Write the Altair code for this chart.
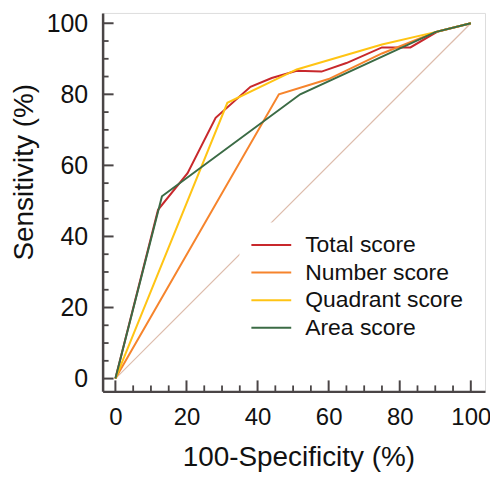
import altair as alt
import pandas as pd

series = ["Total score", "Number score", "Quadrant score", "Area score"]
colors = ["#C8282C", "#F6842C", "#FFC414", "#3B6B45"]

total_x = [0, 12, 20.3, 28.2, 38, 44, 51, 58, 65, 75, 83, 90.5, 100]
total_y = [0, 47.5, 57.8, 73.4, 82.1, 84.6, 86.6, 86.4, 88.8, 93.2, 93.2, 97.6, 100]
number_x = [0, 46, 60, 75, 90, 100]
number_y = [0, 80, 84.3, 91.5, 97.5, 100]
quadrant_x = [0, 31.5, 51, 75, 90, 100]
quadrant_y = [0, 77.6, 87, 94, 97.5, 100]
area_x = [0, 13.1, 52, 90, 100]
area_y = [0, 51.3, 80, 97.5, 100]

diag_x = [0, 100]
diag_y = [0, 100]

tick_vals = list(range(0, 101, 5))
major_vals = [0, 20, 40, 60, 80, 100]
minor_vals = [v for v in tick_vals if v not in major_vals]

rows = []
for name, xs, ys in [("Total score", total_x, total_y), ("Number score", number_x, number_y),
                     ("Quadrant score", quadrant_x, quadrant_y), ("Area score", area_x, area_y)]:
    for i, (a, b) in enumerate(zip(xs, ys)):
        rows.append({"series": name, "x": a, "y": b, "i": i})
df = pd.DataFrame(rows)

W, H = 384, 380
FONT = "Liberation Sans"
AX = "#4A4546"

xscale = alt.Scale(domain=[-3.6, 104], nice=False, zero=False)
yscale = alt.Scale(domain=[-3.6, 102.9], nice=False, zero=False)

xaxis = alt.Axis(values=major_vals, title="100-Specificity (%)", ticks=False, grid=False,
                 domainColor=AX, domainWidth=2.5, labelFontSize=24, labelFont=FONT,
                 labelColor="#111", labelPadding=14, titleFont=FONT, titleFontSize=28,
                 titleFontWeight="normal", titleColor="#111", titleX=196.6, titleY=74,
                 titleBaseline="alphabetic", titleAlign="center")
yaxis = alt.Axis(values=major_vals, title="Sensitivity (%)", ticks=False, grid=False,
                 domainColor=AX, domainWidth=2.5, labelFontSize=25, labelFont=FONT,
                 labelColor="#111", labelPadding=15, titleFont=FONT, titleFontSize=28,
                 titleFontWeight="normal", titleColor="#111", titleX=-70.5, titleY=159.5,
                 titleBaseline="alphabetic", titleAlign="center", titleAngle=-90)

diag = alt.Chart(pd.DataFrame({"x": diag_x, "y": diag_y})).mark_line(
    color="#DDBCAC", strokeWidth=1.2).encode(
    x=alt.X("x:Q", scale=xscale, axis=xaxis),
    y=alt.Y("y:Q", scale=yscale, axis=yaxis))

lines = alt.Chart(df).mark_line(strokeWidth=2).encode(
    x=alt.X("x:Q", scale=xscale),
    y=alt.Y("y:Q", scale=yscale),
    order="i:Q",
    color=alt.Color("series:N", scale=alt.Scale(domain=series, range=colors), sort=series,
                    legend=alt.Legend(title=None, orient="none", legendX=137.4, legendY=210.5,
                                      symbolType="stroke", symbolSize=1600, symbolStrokeWidth=2,
                                      labelFontSize=23, labelFont=FONT, labelColor="#111",
                                      labelOffset=13, rowPadding=3.7, padding=11,
                                      clipHeight=23, fillColor="white")))

xt_major = alt.Chart(pd.DataFrame({"v": major_vals})).mark_rule(color=AX, strokeWidth=2).encode(
    x=alt.X("v:Q", scale=xscale), y=alt.value(H), y2=alt.value(H - 11))
xt_minor = alt.Chart(pd.DataFrame({"v": minor_vals})).mark_rule(color=AX, strokeWidth=1.8).encode(
    x=alt.X("v:Q", scale=xscale), y=alt.value(H), y2=alt.value(H - 6))
yt_major = alt.Chart(pd.DataFrame({"v": major_vals})).mark_rule(color=AX, strokeWidth=2).encode(
    y=alt.Y("v:Q", scale=yscale), x=alt.value(0), x2=alt.value(11))
yt_minor = alt.Chart(pd.DataFrame({"v": minor_vals})).mark_rule(color=AX, strokeWidth=1.8).encode(
    y=alt.Y("v:Q", scale=yscale), x=alt.value(0), x2=alt.value(6))

chart = alt.layer(diag, lines, xt_major, xt_minor, yt_major, yt_minor).properties(
    width=W, height=H,
    autosize=alt.AutoSizeParams(type="none"),
    padding={"left": 95, "top": 4, "right": 5, "bottom": 81},
).configure_view(stroke=None).configure(background="white")

chart.save("out.html", embed_options={"renderer": "svg", "actions": False})
